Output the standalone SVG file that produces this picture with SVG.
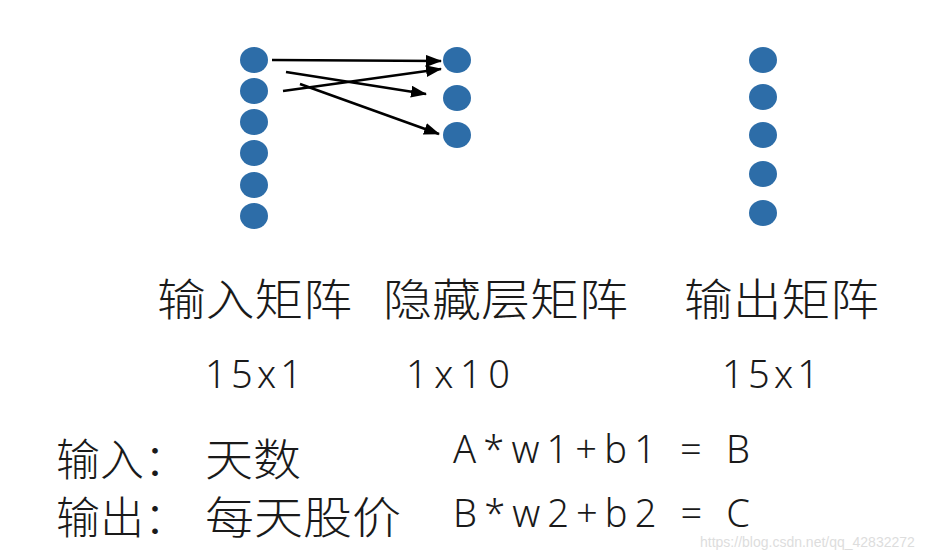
<svg xmlns="http://www.w3.org/2000/svg" width="952" height="558" viewBox="0 0 952 558">
<style>
.n{fill:#2d6da8}
.t{font-family:"Noto Sans CJK SC","Liberation Sans",sans-serif;font-size:44px;fill:#1a1a1a;font-weight:300}
.m{font-family:"Noto Sans","Liberation Sans",sans-serif;font-size:38px;fill:#1a1a1a;font-weight:300}
.c{stroke:#000;stroke-width:2.5;fill:none;marker-end:url(#a)}
</style>
<defs><marker id="a" markerWidth="16" markerHeight="12" refX="15" refY="6" orient="auto" markerUnits="userSpaceOnUse"><path d="M0,0L16,6L0,12z" fill="#000"/></marker></defs>
<rect width="952" height="558" fill="#fff"/>
<g id="input"><ellipse class="n" cx="254" cy="60" rx="14" ry="13"/><ellipse class="n" cx="254" cy="91" rx="14" ry="13"/><ellipse class="n" cx="254" cy="122" rx="14" ry="13"/><ellipse class="n" cx="254" cy="153" rx="14" ry="13"/><ellipse class="n" cx="254" cy="185" rx="14" ry="13"/><ellipse class="n" cx="254" cy="216" rx="14" ry="13"/></g>
<g id="hidden"><ellipse class="n" cx="457" cy="60" rx="14" ry="13"/><ellipse class="n" cx="457" cy="98" rx="14" ry="13"/><ellipse class="n" cx="457" cy="135" rx="14" ry="13"/></g>
<g id="output"><ellipse class="n" cx="763" cy="60" rx="14" ry="13"/><ellipse class="n" cx="763" cy="97" rx="14" ry="13"/><ellipse class="n" cx="763" cy="135" rx="14" ry="13"/><ellipse class="n" cx="763" cy="174" rx="14" ry="13"/><ellipse class="n" cx="763" cy="213" rx="14" ry="13"/></g>
<g id="connectors">
<line class="c" x1="272" y1="60" x2="441" y2="61"/>
<line class="c" x1="286" y1="72" x2="426" y2="94"/>
<line class="c" x1="283" y1="91" x2="441" y2="69"/>
<line class="c" x1="300" y1="84" x2="439" y2="134"/>
</g>
<g id="labels">
<text class="t" x="157" y="316" textLength="195" lengthAdjust="spacingAndGlyphs">输入矩阵</text>
<text class="t" x="383" y="316" textLength="245" lengthAdjust="spacingAndGlyphs">隐藏层矩阵</text>
<text class="t" x="684" y="316" textLength="195" lengthAdjust="spacingAndGlyphs">输出矩阵</text>
<text class="m" x="205" y="388" textLength="97">15x1</text>
<text class="m" x="406" y="388" textLength="104">1x10</text>
<text class="m" x="722" y="388" textLength="97">15x1</text>
<text class="t" x="56" y="476">输入：</text>
<text class="t" x="205" y="476" textLength="96" lengthAdjust="spacingAndGlyphs">天数</text>
<text class="t" x="56" y="534">输出：</text>
<text class="t" x="205" y="534" textLength="196" lengthAdjust="spacingAndGlyphs">每天股价</text>
<text class="m" x="453" y="463" textLength="297">A*w1+b1 = B</text>
<text class="m" x="453" y="527" textLength="297">B*w2+b2 = C</text>
<text x="700" y="547" font-family="Liberation Sans,sans-serif" font-size="14" fill="#ddd">https://blog.csdn.net/qq_42832272</text>
</g>
</svg>
